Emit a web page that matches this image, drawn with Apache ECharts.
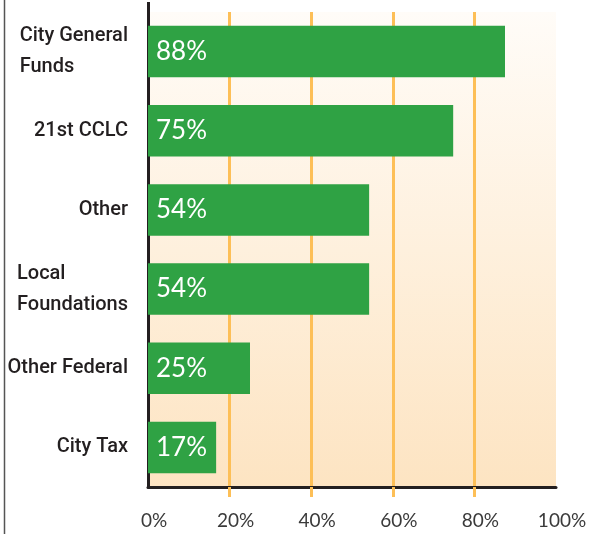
<!DOCTYPE html>
<html>
<head>
<meta charset="utf-8">
<title>Funding sources</title>
<script src="https://cdn.jsdelivr.net/npm/echarts@6/dist/echarts.min.js"></script>
<style>
  html, body { margin: 0; padding: 0; background: #fff; }
  #main { width: 590px; height: 534px; }
</style>
</head>
<body>
<div id="main"></div>
<script type="text/javascript">
// data
var categories = ['City General\nFunds', '21st CCLC', 'Other', 'Local\nFoundations', 'Other Federal', 'City Tax'];
var values = [87.5, 74.8, 54.2, 54.2, 25, 16.7];
var valueLabels = ['88%', '75%', '54%', '54%', '25%', '17%'];
var xTicks = [0, 20, 40, 60, 80, 100];

var narrowFont = "Roboto, sans-serif";
var roundFont = "Lato, 'Noto Sans', sans-serif";

var myChart = echarts.init(document.getElementById('main'));

var option = {
    animation: false,
    backgroundColor: '#fff',
    grid: {
        left: 148, right: 34, top: 12, bottom: 47,
        outerBoundsMode: 'none',
        containLabel: false,
        show: true,
        borderWidth: 0,
        backgroundColor: new echarts.graphic.LinearGradient(0, 0, 0, 1, [
            { offset: 0, color: '#fffcf8' },
            { offset: 1, color: '#fde4c2' }
        ])
    },
    graphic: [{
        type: 'line',
        shape: { x1: 4.5, y1: 0, x2: 4.5, y2: 534 },
        style: { stroke: '#555', lineWidth: 1.5 }
    }],
    xAxis: [{
        type: 'value',
        min: 0, max: 100, interval: 20,
        axisLine: { show: true, lineStyle: { color: '#231f20', width: 3 } },
        axisTick: { show: true, length: 10, customValues: [20, 40, 60, 80],
            lineStyle: { color: '#fdbf57', width: 3 } },
        splitLine: { show: true, lineStyle: { color: '#fdbf57', width: 3 } },
        axisLabel: {
            customValues: xTicks,
            formatter: function (v) { return v + '%'; },
            color: '#3a3a3a', fontFamily: roundFont, fontSize: 19,
            margin: 24, padding: [0, 0, 0, 12]
        }
    }, {
        type: 'value',
        min: 0, max: 100, interval: 20,
        axisLine: { show: false },
        axisTick: { show: true, length: 10, customValues: [0],
            lineStyle: { color: '#231f20', width: 3 } },
        splitLine: { show: false },
        axisLabel: { show: false }
    }],
    yAxis: {
        type: 'category',
        inverse: true,
        data: categories,
        axisLine: { show: true, lineStyle: { color: '#231f20', width: 3 } },
        axisTick: { show: false },
        axisLabel: {
            margin: 20,
            color: '#231f20',
            fontFamily: narrowFont,
            fontSize: 20,
            lineHeight: 31,
            formatter: function (v) {
                return v.split('\n').map(function (s) { return '{l|' + s + '}'; }).join('\n');
            },
            rich: {
                l: { align: 'left', fontSize: 20, lineHeight: 31, color: '#231f20',
                     fontWeight: 500, fontFamily: narrowFont }
            }
        }
    },
    series: [{
        type: 'bar',
        data: values,
        barCategoryGap: '35%',
        itemStyle: { color: '#2fa244' },
        label: {
            show: true,
            position: 'insideLeft',
            distance: 8,
            color: '#fff',
            fontFamily: roundFont,
            fontSize: 26,
            formatter: function (p) { return valueLabels[p.dataIndex]; }
        }
    }]
};
myChart.setOption(option);
</script>
</body>
</html>
